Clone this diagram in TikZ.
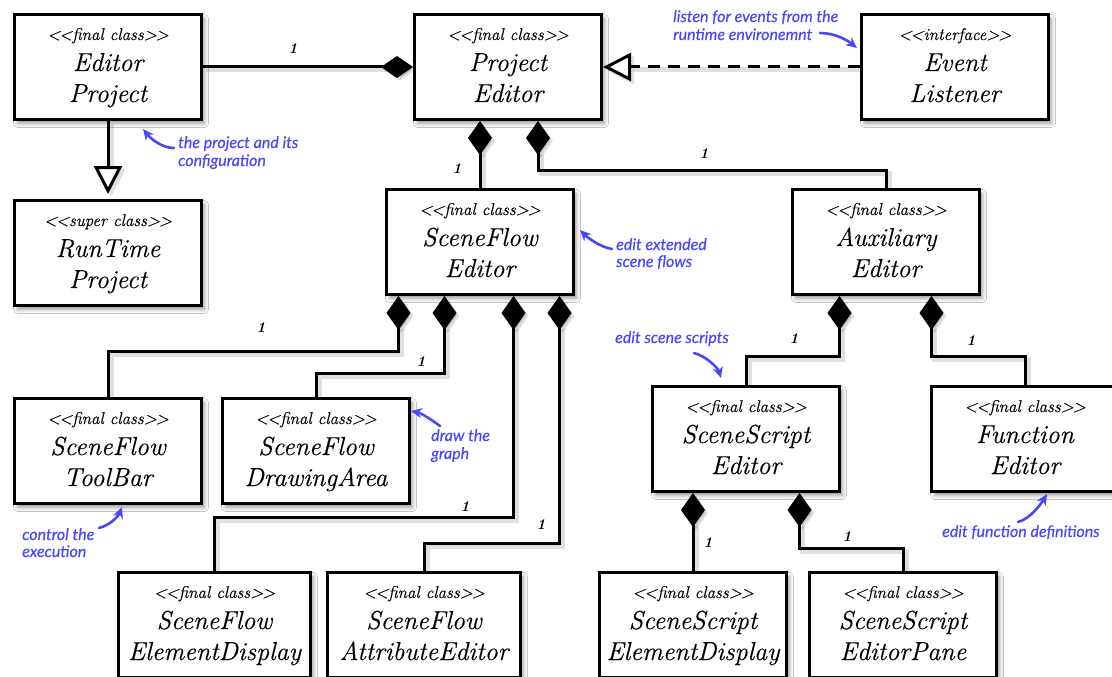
\documentclass[tikz,border=0pt]{standalone}
\usepackage{fontspec}
\newfontfamily\notefont{Lato}[FakeBold=0.4]
\newfontfamily\clsfont{Latin Modern Roman}[FakeBold=0.3]
\usetikzlibrary{arrows.meta,shadows.blur,calc}
\definecolor{noteblue}{RGB}{72,72,250}

% stereotype guillemets written as two separate angle brackets
\newcommand\stt[1]{<\kern-1pt<#1>\kern-1pt>}

\tikzset{
  classbox/.style={draw, line width=3pt, fill=white, minimum height=105pt, inner sep=0pt,
    blur shadow={shadow xshift=3pt, shadow yshift=-4pt, shadow blur radius=4pt, shadow opacity=40}},
  stereo/.style={anchor=base, inner sep=0pt, font=\clsfont\fontsize{17pt}{20pt}\selectfont\itshape},
  cname/.style={anchor=base, inner sep=0pt, font=\clsfont\fontsize{26pt}{31pt}\selectfont\itshape},
  mult/.style={inner sep=0pt, font=\fontsize{15pt}{15pt}\selectfont\bfseries\itshape},
  link/.style={draw, line width=3pt, line join=miter,
    preaction={draw, line width=5pt, opacity=0.12, transform canvas={xshift=3pt, yshift=-3pt}}},
  comp/.style={link, arrows={Diamond[length=34pt, width=24pt]-}},
  note/.style={anchor=base west, inner sep=0pt, text=noteblue,
    font=\notefont\itshape\fontsize{16pt}{18pt}\selectfont},
  notearrow/.style={draw=noteblue, line width=2.6pt, line cap=round,
    arrows={-Stealth[length=11pt, width=10pt]}}
}

% class box: name, left x, top y, width, stereotype, two name lines
\newcommand\umlclass[7]{%
  \node[classbox, minimum width=#4pt, anchor=north west] (#1) at (#2,#3) {};
  \node[stereo] (#1-s) at ([yshift=-27pt]#1.north) {\stt{#5}};
  \node[cname] (#1-a) at ([yshift=-58pt]#1.north) {#6};
  \node[cname] (#1-b) at ([yshift=-89pt]#1.north) {#7};
}

\begin{document}
\begin{tikzpicture}[x=1pt, y=-1pt]
\useasboundingbox (0,0) rectangle (1112,677);
\clip (0,0) rectangle (1112,677);
\fill[white] (0,0) rectangle (1112,677);

% classes
\umlclass{EP}{13}{13}{187}{final class}{Editor}{Project}
\umlclass{PE}{413}{13}{187}{final class}{Project}{Editor}
\umlclass{EL}{860}{13}{187}{interface}{Event}{Listener}
\umlclass{RP}{13}{199}{187}{super class}{RunTime}{Project}
\umlclass{SFE}{385}{188}{187}{final class}{SceneFlow}{Editor}
\umlclass{AE}{791}{188}{187}{final class}{Auxiliary}{Editor}
\umlclass{TB}{13}{397}{187}{final class}{SceneFlow}{ToolBar}
\umlclass{DA}{221}{397}{187}{final class}{SceneFlow}{DrawingArea}
\umlclass{SSE}{651}{385}{187}{final class}{SceneScript}{Editor}
\umlclass{FE}{930}{385}{187}{final class}{Function}{Editor}
\umlclass{SFED}{117}{571}{192}{final class}{SceneFlow}{ElementDisplay}
\umlclass{SFAE}{326}{571}{193}{final class}{SceneFlow}{AttributeEditor}
\umlclass{SSED}{598}{571}{187}{final class}{SceneScript}{ElementDisplay}
\umlclass{SSEP}{808}{571}{187}{final class}{SceneScript}{EditorPane}

% association, generalization, realization
\draw[link, arrows={-Diamond[length=32pt, width=22pt]}] (EP) -- (PE);
\draw[link, shorten >=5pt, arrows={-Triangle[open, length=28pt, width=28pt, fill=white]}] (EP) -- (RP);
\draw[link, dash pattern=on 12pt off 8pt, arrows={-Triangle[open, length=28pt, width=28pt, fill=white]}] (EL) -- (PE);

% compositions
\draw[comp] (SFE.north |- PE.south) -- (SFE.north);
\draw[comp] ([xshift=30pt]PE.south) |- ([yshift=18pt]AE.north) -- (AE.north);
\draw[comp] ([xshift=-81.5pt]SFE.south) |- ([yshift=46pt]TB.north) -- (TB.north);
\draw[comp] ([xshift=-35.5pt]SFE.south) |- ([yshift=24pt]DA.north) -- (DA.north);
\draw[comp] ([xshift=33.5pt]SFE.south) |- ([yshift=54pt]SFED.north) -- (SFED.north);
\draw[comp] ([xshift=79.5pt]SFE.south) |- ([yshift=28pt]SFAE.north) -- (SFAE.north);
\draw[comp] ([xshift=-46.5pt]AE.south) |- ([yshift=29pt]SSE.north) -- (SSE.north);
\draw[comp] ([xshift=45.5pt]AE.south) |- ([yshift=29pt]FE.north) -- (FE.north);
\draw[comp] (SSED.north |- SSE.south) -- (SSED.north);
\draw[comp] ([xshift=53.5pt]SSE.south) |- ([yshift=23pt]SSEP.north) -- (SSEP.north);

% multiplicities
\node[mult] (m1) at (293,49) {1};
\node[mult] (m2) at (457,169) {1};
\node[mult] (m3) at (704,154) {1};
\node[mult] (m4) at (261,328) {1};
\node[mult] (m5) at (421,362) {1};
\node[mult] (m6) at (465,507) {1};
\node[mult] (m7) at (541,525) {1};
\node[mult] (m8) at (794,339) {1};
\node[mult] (m9) at (971,341) {1};
\node[mult] (m10) at (708,543) {1};
\node[mult] (m11) at (847,537) {1};

% notes
\node[note] (n1a) at (178,148) {the project and its};
\node[note] (n1b) at (178,166) {configuration};
\node[note] (n2a) at (673,22) {listen for events from the};
\node[note] (n2b) at (673,40) {runtime environemnt};
\node[note] (n3a) at (616,250) {edit extended};
\node[note] (n3b) at (616,267) {scene flows};
\node[note] (n4a) at (615,343) {edit scene scripts};
\node[note] (n5a) at (431,441) {draw the};
\node[note] (n5b) at (431,459) {graph};
\node[note] (n6a) at (22,540) {control the};
\node[note] (n6b) at (22,557) {execution};
\node[note] (n7a) at (942,537) {edit function definitions};

% note pointers
\coordinate (a1s) at (174,148); \coordinate (a1e) at (143,129);
\coordinate (a2s) at (820,33);  \coordinate (a2e) at (857,48);
\coordinate (a3s) at (612,249); \coordinate (a3e) at (580,230);
\coordinate (a4s) at (694,353); \coordinate (a4e) at (721,378);
\coordinate (a5s) at (440,426); \coordinate (a5e) at (411,411);
\coordinate (a6s) at (99,528);  \coordinate (a6e) at (122,507);
\coordinate (a7s) at (1018,522); \coordinate (a7e) at (1047,494);
\draw[notearrow] (a1s) .. controls +(-12,0) and +(8,10) .. (a1e);
\draw[notearrow] (a2s) .. controls +(15,0) and +(-10,-8) .. (a2e);
\draw[notearrow] (a3s) .. controls +(-12,-2) and +(8,8) .. (a3e);
\draw[notearrow] (a4s) .. controls +(12,3) and +(-3,-10) .. (a4e);
\draw[notearrow] (a5s) .. controls +(-8,-6) and +(10,2) .. (a5e);
\draw[notearrow] (a6s) .. controls +(12,-3) and +(-3,8) .. (a6e);
\draw[notearrow] (a7s) .. controls +(12,-3) and +(-6,10) .. (a7e);
\end{tikzpicture}
\end{document}
